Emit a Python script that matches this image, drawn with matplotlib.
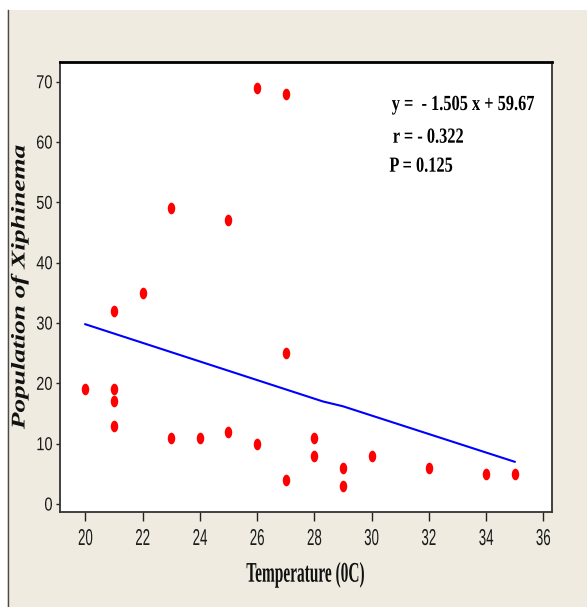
import numpy as np
import matplotlib
matplotlib.use("Agg")
import matplotlib.pyplot as plt
from matplotlib.patheffects import AbstractPathEffect
from matplotlib.transforms import Affine2D
from matplotlib.path import Path
from matplotlib.patches import Rectangle
from matplotlib.lines import Line2D

# ---------------- data ----------------
temperature = [20, 21, 21, 21, 21, 22, 23, 23, 24, 25, 25, 26, 26, 27, 27, 27,
               28, 28, 29, 29, 30, 32, 34, 35]
population = [19, 32, 19, 17, 13, 35, 49, 11, 11, 47, 12, 69, 10, 68, 25, 4,
              11, 8, 6, 3, 8, 6, 5, 5]
fit_x = [20, 28.3, 29, 35]
fit_y = [29.8, 17.0, 16.2, 7.0]
x_ticks = [20, 22, 24, 26, 28, 30, 32, 34, 36]
y_ticks = [0, 10, 20, 30, 40, 50, 60, 70]
stats_lines = ["y =  - 1.505 x + 59.67", "r = - 0.322", "P = 0.125"]
x_label = "Temperature (0C)"
y_label = "Population of Xiphinema"


class Stretch(AbstractPathEffect):
    """Scale glyphs along the text direction (condense / expand)."""
    def __init__(self, sx, anchor="center"):
        super().__init__()
        self.sx = sx
        self.anchor = anchor

    def draw_path(self, renderer, gc, tpath, affine, rgbFace=None):
        ext = tpath.get_extents()
        if self.anchor == "left":
            cx = ext.x0
        elif self.anchor == "right":
            cx = ext.x1
        else:
            cx = 0.5 * (ext.x0 + ext.x1)
        t = Affine2D().translate(-cx, 0).scale(self.sx, 1).translate(cx, 0) + affine
        renderer.draw_path(gc, tpath, t, rgbFace)


W, H = 587, 607
fig = plt.figure(figsize=(W / 100, H / 100), dpi=100)
fig.patch.set_facecolor("white")

# beige panel
fig.patches.append(Rectangle((7 / W, 0), 1 - 7 / W, 1 - 10 / H, transform=fig.transFigure,
                             facecolor="#efebe0", edgecolor="none", zorder=-10))
fig.lines.append(Line2D([7.5 / W, 7.5 / W], [0, 1 - 10 / H], transform=fig.transFigure,
                        color="#4a4a4a", lw=1.0, zorder=-9))

ax_l, ax_r, ax_t, ax_b = 60, 551.7, 62, 511.7
ax = fig.add_axes([ax_l / W, 1 - ax_b / H, (ax_r - ax_l) / W, (ax_b - ax_t) / H])
ax.set_zorder(1)
ax.set_facecolor("white")

ax.plot(fit_x, fit_y, color="#0000ff", lw=1.5, zorder=2)

ell = Path.unit_circle().transformed(Affine2D().scale(0.64, 1.0))
ax.plot(temperature, population, linestyle="none", marker=ell, markersize=8.4,
        markerfacecolor="#ff0000", markeredgewidth=0, zorder=3)

ax.set_xlim(19.116, 36.293)
ax.set_ylim(-1.276, 73.27)
ax.set_xticks(x_ticks)
ax.set_yticks(y_ticks)
ax.set_xticklabels([str(v) for v in x_ticks])
ax.set_yticklabels([str(v) for v in y_ticks])

for side in ["left", "right", "bottom"]:
    ax.spines[side].set_color("#333333")
    ax.spines[side].set_linewidth(1.3)
ax.spines["top"].set_color("#000000")
ax.spines["top"].set_linewidth(2.0)

ax.tick_params(axis="x", direction="out", length=6.5, width=1.0, color="#222222", pad=4.5)
ax.tick_params(axis="y", direction="out", length=3.2, width=1.0, color="#222222", pad=2.0)

for lab in ax.get_xticklabels():
    lab.set_fontfamily("Liberation Sans")
    lab.set_fontsize(16.5)
    lab.set_color("#1a1a1a")
    lab.set_path_effects([Stretch(0.58, "center")])
for lab in ax.get_yticklabels():
    lab.set_fontfamily("Liberation Sans")
    lab.set_fontsize(13.5)
    lab.set_color("#1a1a1a")
    lab.set_path_effects([Stretch(0.78, "right")])

ah = ax_b - ax_t
aw = ax_r - ax_l
xl = ax.set_xlabel(x_label, fontfamily="Liberation Serif", fontweight="bold",
                   fontsize=20.5, color="#111111")
xl.set_verticalalignment("baseline")
ax.xaxis.set_label_coords(0.5, -(581.7 - ax_b) / ah)
xl.set_path_effects([Stretch(0.54, "center")])

yl = ax.set_ylabel(y_label, fontfamily="Liberation Serif", fontweight="bold",
                   fontstyle="italic", fontsize=14, color="#111111")
yl.set_verticalalignment("center")
yl.set_horizontalalignment("center")
ax.yaxis.set_label_coords(-(ax_l - 20) / aw, 0.5)
yl.set_path_effects([Stretch(1.4, "center")])

stat_pos = [(391.7, 110.0), (392.7, 142.7), (389.3, 171.7)]
for txt, (px, py) in zip(stats_lines, stat_pos):
    t = ax.text((px - ax_l) / aw, 1 - (py - ax_t) / ah, txt, transform=ax.transAxes,
                ha="left", va="baseline", fontfamily="Liberation Serif",
                fontweight="bold", fontsize=15.5, color="#000000")
    t.set_path_effects([Stretch(0.76, "left")])

fig.savefig("out.png", dpi=100, facecolor=fig.get_facecolor())
